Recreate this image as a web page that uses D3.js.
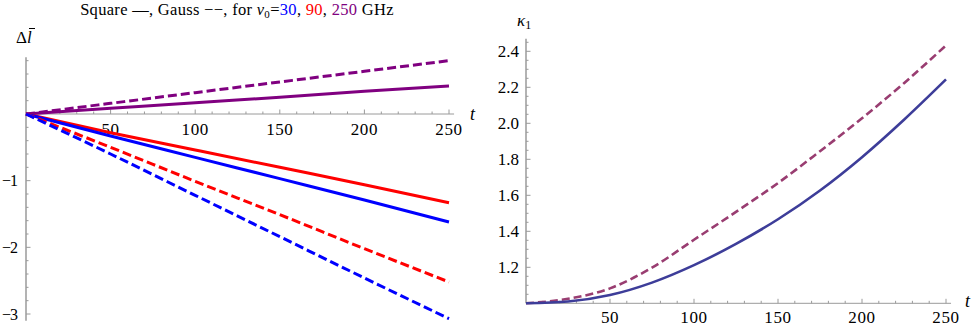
<!DOCTYPE html>
<html>
<head>
<meta charset="utf-8">
<script src="https://cdn.jsdelivr.net/npm/d3@7"></script>
<style>
  body { margin: 0; background: #fff; }
  svg { display: block; }
</style>
</head>
<body>
<div id="chart"></div>
<script>
// ----- data: left panel (Δl vs t) -----
const tLeft = [0, 50, 100, 150, 200, 250];
const blueSquare   = [0, -0.33, -0.65, -0.97, -1.29, -1.62];
const redSquare    = [0, -0.28, -0.54, -0.80, -1.06, -1.33];
const purpleSquare = [0, 0.085, 0.17, 0.25, 0.34, 0.42];
const blueGauss    = [0, -0.60, -1.22, -1.84, -2.46, -3.07];
const redGauss     = [0, -0.50, -1.01, -1.51, -2.02, -2.52];
const purpleGauss  = [0, 0.16, 0.32, 0.48, 0.64, 0.80];

// ----- data: right panel (κ1 vs t) -----
const tRight = [0, 25, 50, 75, 100, 125, 150, 175, 200, 225, 250];
const kappaSolid  = [1.0, 1.01, 1.046, 1.115, 1.212, 1.33, 1.467, 1.627, 1.812, 2.02, 2.244];
const kappaDashed = [1.0, 1.025, 1.083, 1.198, 1.353, 1.508, 1.668, 1.845, 2.028, 2.223, 2.433];

const xTickLabels = [50, 100, 150, 200, 250];
const leftYTickLabels = [-3, -2, -1];
const rightYTickLabels = [1.2, 1.4, 1.6, 1.8, 2.0, 2.2, 2.4];

const W = 974, H = 326;
const axisColor = "#9a9a9a";
const serif = "'Liberation Serif', 'Times New Roman', 'DejaVu Serif', serif";

const svg = d3.select("#chart").append("svg")
  .attr("width", W)
  .attr("height", H)
  .attr("font-family", serif);

// ---------- title ----------
const title = svg.append("text")
  .attr("x", 237)
  .attr("y", 14.5)
  .attr("text-anchor", "middle")
  .attr("font-size", 16.5)
  .attr("letter-spacing", 0.3);
title.append("tspan").text("Square —, Gauss −−, for ");
title.append("tspan").attr("font-style", "italic").text("ν");
title.append("tspan").attr("font-size", 11).attr("dy", 3).text("0");
title.append("tspan").attr("dy", -3).text("=");
title.append("tspan").attr("fill", "#0000ff").text("30");
title.append("tspan").text(", ");
title.append("tspan").attr("fill", "#ff0000").text("90");
title.append("tspan").text(", ");
title.append("tspan").attr("fill", "#800080").text("250");
title.append("tspan").text(" GHz");

// helper: axes with inward ticks
function drawXAxis(x, y0, labelY) {
  const g = svg.append("g");
  const minor = d3.range(10, 251, 10);
  g.append("line")
    .attr("x1", x.range()[0]).attr("x2", x(253))
    .attr("y1", y0).attr("y2", y0)
    .attr("stroke", axisColor).attr("stroke-width", 1);
  g.selectAll(".tk").data(minor).join("line")
    .attr("x1", d => x(d)).attr("x2", d => x(d))
    .attr("y1", y0).attr("y2", d => y0 - (d % 50 === 0 ? 4.5 : 2.5))
    .attr("stroke", axisColor).attr("stroke-width", 1);
  g.selectAll(".lb").data(xTickLabels).join("text")
    .attr("x", d => x(d))
    .attr("y", labelY)
    .attr("text-anchor", "middle")
    .attr("font-size", 17)
    .attr("letter-spacing", 0.6)
    .text(d => d);
}

function drawYAxis(y, x0, y1, y2, minorStep, labels, fmt, gap, size, spacing) {
  const g = svg.append("g");
  const lo = y.invert(y1), hi = y.invert(y2);
  const minor = d3.range(Math.ceil(lo / minorStep - 1e-6), Math.floor(hi / minorStep + 1e-6) + 1)
    .map(i => +(i * minorStep).toFixed(4));
  g.append("line")
    .attr("x1", x0).attr("x2", x0)
    .attr("y1", y1).attr("y2", y2)
    .attr("stroke", axisColor).attr("stroke-width", 1.5);
  g.selectAll(".tk").data(minor).join("line")
    .attr("x1", x0).attr("x2", d => x0 + (labels.some(l => Math.abs(l - d) < 1e-6) ? 4.5 : 2.5))
    .attr("y1", d => y(d)).attr("y2", d => y(d))
    .attr("stroke", axisColor).attr("stroke-width", 1);
  g.selectAll(".lb").data(labels).join("text")
    .attr("x", x0 - gap)
    .attr("y", d => y(d))
    .attr("dy", "0.35em")
    .attr("text-anchor", "end")
    .attr("font-size", size)
    .attr("letter-spacing", spacing)
    .text(fmt);
}

// ---------- left panel ----------
const xL = d3.scaleLinear().domain([0, 250]).range([26, 449]);
const yL = d3.scaleLinear().domain([-3, 0]).range([314, 114]);

drawYAxis(yL, 26, yL(-3.1), yL(0.85), 0.2, leftYTickLabels, d => "−" + Math.abs(d), 9, 16, -1);
drawXAxis(xL, yL(0), 135);

svg.append("text")
  .attr("x", 470).attr("y", 120)
  .attr("font-size", 18).attr("font-style", "italic")
  .text("t");

const yLab = svg.append("text")
  .attr("x", 16).attr("y", 43)
  .attr("font-size", 17);
yLab.append("tspan").text("Δ");
yLab.append("tspan").attr("font-style", "italic").text("l");
svg.append("line")
  .attr("x1", 29).attr("x2", 35)
  .attr("y1", 28.5).attr("y2", 28.5)
  .attr("stroke", "#000").attr("stroke-width", 1);

const lineL = d3.line()
  .x((d, i) => xL(tLeft[i]))
  .y(d => yL(d))
  .curve(d3.curveMonotoneX);

const leftSeries = [
  { values: purpleSquare, color: "#800080", dash: null },
  { values: purpleGauss,  color: "#800080", dash: "9 4" },
  { values: redSquare,    color: "#ff0000", dash: null },
  { values: blueSquare,   color: "#0000ff", dash: null },
  { values: redGauss,     color: "#ff0000", dash: "9 4" },
  { values: blueGauss,    color: "#0000ff", dash: "9 4" }
];

leftSeries.forEach(s => {
  svg.append("path")
    .attr("d", lineL(s.values))
    .attr("fill", "none")
    .attr("stroke", s.color)
    .attr("stroke-width", 3)
    .attr("stroke-dasharray", s.dash);
});

// ---------- right panel ----------
const xR = d3.scaleLinear().domain([0, 250]).range([526, 946]);
const yR = d3.scaleLinear().domain([1, 2.4]).range([303.3, 51.3]);

drawYAxis(yR, 526, yR(1), yR(2.47), 0.05, rightYTickLabels, d3.format(".1f"), 7, 17, 0);
drawXAxis(xR, yR(1), 323);

svg.append("text")
  .attr("x", 965).attr("y", 307)
  .attr("font-size", 18).attr("font-style", "italic")
  .text("t");

const kLab = svg.append("text")
  .attr("x", 517).attr("y", 26)
  .attr("font-size", 17);
kLab.append("tspan").attr("font-style", "italic").text("κ");
kLab.append("tspan").attr("font-size", 12).attr("dy", 3).text("1");

const lineR = d3.line()
  .x((d, i) => xR(tRight[i]))
  .y(d => yR(d))
  .curve(d3.curveMonotoneX);

svg.append("path")
  .attr("d", lineR(kappaDashed))
  .attr("fill", "none")
  .attr("stroke", "#993d71")
  .attr("stroke-width", 2.6)
  .attr("stroke-dasharray", "8 4");

svg.append("path")
  .attr("d", lineR(kappaSolid))
  .attr("fill", "none")
  .attr("stroke", "#3d3d99")
  .attr("stroke-width", 2.6);
</script>
</body>
</html>
